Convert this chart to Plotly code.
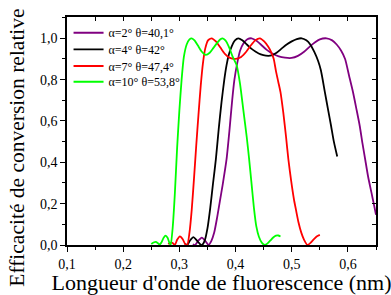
import plotly.graph_objects as go

# ---- data ----
labels = ["α=2° θ=40,1°", "α=4° θ=42°", "α=7° θ=47,4°", "α=10° θ=53,8°"]
colors = ["#800080", "#000000", "#FF0000", "#00FF00"]

x_a2 = [0.324, 0.328, 0.334, 0.340, 0.346, 0.352, 0.357, 0.362, 0.367, 0.372, 0.377, 0.384,
        0.389, 0.394, 0.398, 0.403, 0.408, 0.414, 0.421, 0.4286, 0.436, 0.445, 0.455, 0.466,
        0.477, 0.488, 0.4998, 0.511, 0.522, 0.532, 0.541, 0.550, 0.562, 0.572, 0.580, 0.588,
        0.595, 0.602, 0.609, 0.615, 0.621, 0.626, 0.631, 0.636, 0.642, 0.646, 0.650]
y_a2 = [0.004, 0.0, 0.022, 0.036, 0.02, 0.0, 0.02, 0.06, 0.13, 0.21, 0.29, 0.415,
        0.55, 0.70, 0.80, 0.88, 0.94, 0.975, 0.995, 1.0, 0.99, 0.97, 0.945, 0.925,
        0.912, 0.906, 0.905, 0.915, 0.935, 0.96, 0.98, 0.995, 1.0, 0.99, 0.97, 0.94,
        0.90, 0.82, 0.74, 0.66, 0.577, 0.49, 0.41, 0.33, 0.252, 0.20, 0.146]

x_a4 = [0.310, 0.314, 0.319, 0.325, 0.331, 0.337, 0.340, 0.345, 0.350, 0.355, 0.360, 0.365,
        0.370, 0.375, 0.380, 0.384, 0.388, 0.393, 0.399, 0.405, 0.412, 0.420, 0.428, 0.436,
        0.445, 0.454, 0.464, 0.473, 0.482, 0.491, 0.500, 0.509, 0.5176, 0.526, 0.533, 0.540,
        0.547, 0.552, 0.559, 0.565, 0.570, 0.575, 0.581]
y_a4 = [0.006, 0.0, 0.022, 0.038, 0.022, 0.004, 0.0, 0.02, 0.08, 0.18, 0.30, 0.415,
        0.56, 0.69, 0.80, 0.87, 0.92, 0.96, 0.99, 1.0, 0.99, 0.97, 0.95, 0.935,
        0.922, 0.916, 0.917, 0.93, 0.95, 0.97, 0.985, 0.996, 1.0, 0.99, 0.97, 0.935,
        0.89, 0.844, 0.74, 0.65, 0.577, 0.50, 0.428]

x_a7 = [0.280, 0.285, 0.288, 0.292, 0.296, 0.301, 0.306, 0.310, 0.314, 0.318, 0.322, 0.326,
        0.330, 0.334, 0.338, 0.342, 0.346, 0.351, 0.3575, 0.365, 0.373, 0.381, 0.390, 0.400,
        0.410, 0.419, 0.427, 0.435, 0.4434, 0.451, 0.458, 0.464, 0.468, 0.472, 0.476, 0.480,
        0.485, 0.490, 0.494, 0.499, 0.504, 0.5075, 0.512, 0.517, 0.522, 0.528, 0.534, 0.540,
        0.545, 0.550]
y_a7 = [0.005, 0.012, 0.01, 0.0, 0.025, 0.042, 0.028, 0.006, 0.0, 0.06, 0.17, 0.32,
        0.48, 0.63, 0.77, 0.88, 0.95, 0.99, 1.0, 0.985, 0.955, 0.925, 0.905, 0.90,
        0.91, 0.935, 0.965, 0.99, 1.0, 0.985, 0.96, 0.93, 0.90, 0.84, 0.79, 0.74,
        0.64, 0.52, 0.415, 0.31, 0.22, 0.171, 0.11, 0.06, 0.025, 0.0, 0.012, 0.03,
        0.042, 0.049]

x_a10 = [0.250, 0.254, 0.258, 0.262, 0.265, 0.268, 0.272, 0.2756, 0.279, 0.282, 0.2845, 0.288,
         0.292, 0.296, 0.300, 0.304, 0.308, 0.313, 0.318, 0.322, 0.327, 0.333, 0.340, 0.347,
         0.354, 0.361, 0.368, 0.373, 0.377, 0.382, 0.388, 0.395, 0.402, 0.408, 0.414, 0.420,
         0.424, 0.428, 0.4327, 0.437, 0.4416, 0.447, 0.452, 0.457, 0.462, 0.467, 0.472, 0.476,
         0.480]
y_a10 = [0.005, 0.012, 0.015, 0.008, 0.002, 0.012, 0.035, 0.045, 0.035, 0.012, 0.0, 0.08,
         0.25, 0.47, 0.65, 0.80, 0.91, 0.97, 0.995, 1.0, 0.99, 0.965, 0.935, 0.92,
         0.93, 0.955, 0.98, 0.995, 1.0, 0.99, 0.96, 0.91, 0.87, 0.78, 0.65, 0.52,
         0.42, 0.31, 0.18, 0.09, 0.04, 0.01, 0.0, 0.008, 0.022, 0.036, 0.045, 0.046,
         0.041]

x_ticks = [0.1, 0.2, 0.3, 0.4, 0.5, 0.6]
y_ticks = [0.0, 0.2, 0.4, 0.6, 0.8, 1.0]
x_title = "Longueur d'onde de fluorescence (nm)"
y_title = "Efficacité de conversion relative"

series = [(x_a2, y_a2), (x_a4, y_a4), (x_a7, y_a7), (x_a10, y_a10)]

FONT = "Liberation Serif, Times New Roman, serif"

# one single-entry legend per series so the entry spacing matches the reference
legend_ids = ["legend", "legend2", "legend3", "legend4"]
legend_y = [0.931, 0.858, 0.785, 0.716]

fig = go.Figure()
for (xs, ys), name, c, lg in zip(series, labels, colors, legend_ids):
    fig.add_trace(go.Scatter(x=xs, y=ys, mode="lines", name=name, legend=lg,
                             line=dict(color=c, width=1.8, shape="spline", smoothing=0.6)))

# helper (empty) trace so the mirrored top/right axes are drawn
fig.add_trace(go.Scatter(x=[None], y=[None], xaxis="x2", yaxis="y2",
                         showlegend=False, hoverinfo="skip"))

xr = [0.1, 0.65]
yr = [0.0, 1.103]

legend_layout = {}
for lg, ly in zip(legend_ids, legend_y):
    legend_layout[lg] = dict(x=0.005, y=ly, xanchor="left", yanchor="middle",
                             bgcolor="rgba(0,0,0,0)", font=dict(family=FONT, size=12),
                             itemwidth=30)

fig.update_layout(
    width=391, height=295,
    margin=dict(l=67, r=15, t=17, b=50),
    paper_bgcolor="white", plot_bgcolor="white",
    separators=", ",
    font=dict(family=FONT, color="black", size=14),
    showlegend=True,
    **legend_layout,
    xaxis=dict(range=xr, tickvals=x_ticks, tickformat=".1f", ticks="outside",
               ticklen=5, tickwidth=1.3, tickcolor="black",
               minor=dict(dtick=0.05, ticks="outside", ticklen=3, tickcolor="black", tickwidth=1.2),
               showline=True, linecolor="black", linewidth=1.5, showgrid=False, zeroline=False,
               tickfont=dict(size=14), automargin=False,
               title=dict(text=x_title, font=dict(size=22), standoff=1)),
    yaxis=dict(range=yr, tickvals=y_ticks, tickformat=".1f", ticks="outside",
               ticklen=5, tickwidth=1.3, tickcolor="black",
               minor=dict(dtick=0.1, ticks="outside", ticklen=3, tickcolor="black", tickwidth=1.2),
               showline=True, linecolor="black", linewidth=1.5, showgrid=False, zeroline=False,
               tickfont=dict(size=14), automargin=False),
    xaxis2=dict(range=xr, overlaying="x", side="top", anchor="y", dtick=0.05, tick0=0.1,
                ticks="inside", ticklen=4, tickwidth=1.2, tickcolor="black",
                showticklabels=False, showline=True, linecolor="black", linewidth=1.5,
                showgrid=False, zeroline=False),
    yaxis2=dict(range=yr, overlaying="y", side="right", anchor="x", dtick=0.1, tick0=0,
                ticks="inside", ticklen=4, tickwidth=1.2, tickcolor="black",
                showticklabels=False, showline=True, linecolor="black", linewidth=1.5,
                showgrid=False, zeroline=False),
    annotations=[dict(text=y_title, xref="paper", yref="paper", x=-0.163, y=0.425,
                      xanchor="center", yanchor="middle", textangle=-90, showarrow=False,
                      font=dict(family=FONT, size=21.5, color="black"))],
)

fig.write_html("out.html", config={"displayModeBar": False},
               post_script="document.body.style.margin='0';")
